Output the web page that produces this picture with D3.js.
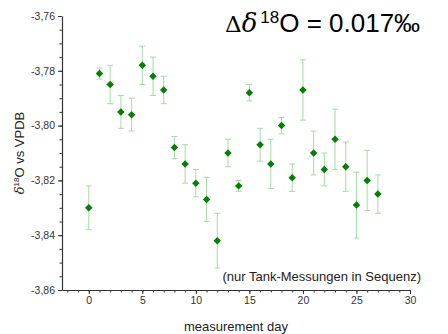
<!DOCTYPE html>
<html>
<head>
<meta charset="utf-8">
<script src="https://cdn.jsdelivr.net/npm/d3@7"></script>
<style>
  body { margin: 0; background: #fff; }
  text { font-family: "Liberation Sans", Arial, sans-serif; fill: #222; }
</style>
</head>
<body>
<div id="chart"></div>
<script>
// data
var days = [0, 1, 2, 3, 4, 5, 6, 7, 8, 9, 10, 11, 12, 13, 14, 15, 16, 17, 18, 19, 20, 21, 22, 23, 24, 25, 26, 27];
var d18O = [-3.830, -3.781, -3.785, -3.795, -3.796, -3.778, -3.782, -3.787, -3.808, -3.814,
            -3.821, -3.827, -3.842, -3.810, -3.822, -3.788, -3.807, -3.814, -3.800, -3.819,
            -3.787, -3.810, -3.816, -3.805, -3.815, -3.829, -3.820, -3.825];
var err = [0.008, 0.002, 0.007, 0.006, 0.006, 0.007, 0.007, 0.005, 0.004, 0.007,
           0.005, 0.008, 0.010, 0.005, 0.002, 0.003, 0.006, 0.009, 0.003, 0.005,
           0.011, 0.008, 0.006, 0.011, 0.009, 0.012, 0.011, 0.007];
var xTicks = [0, 5, 10, 15, 20, 25, 30];
var yTicks = [-3.86, -3.84, -3.82, -3.80, -3.78, -3.76];

var width = 448, height = 334;

var svg = d3.select("#chart").append("svg")
    .attr("width", width)
    .attr("height", height);

var x = d3.scaleLinear().domain([-2.5, 30]).range([62, 410]);
var y = d3.scaleLinear().domain([-3.86, -3.76]).range([290, 16]);

var loc = d3.formatLocale({decimal: ",", thousands: ".", grouping: [3], currency: ["", ""], minus: "-"});
var fmt = loc.format(".2f");

// minor ticks first
svg.append("g")
    .attr("transform", "translate(0,290)")
    .call(d3.axisBottom(x).tickValues(d3.range(-2, 31, 1)).tickSize(2.5).tickFormat(""))
    .call(g => g.select(".domain").remove());
svg.append("g")
    .attr("transform", "translate(62,0)")
    .call(d3.axisLeft(y).tickValues(d3.range(0, 21).map(i => -3.86 + i * 0.005)).tickSize(2.5).tickFormat(""))
    .call(g => g.select(".domain").remove());

// major axes
var xAxis = svg.append("g")
    .attr("transform", "translate(0,290)")
    .call(d3.axisBottom(x).tickValues(xTicks).tickSize(4).tickSizeOuter(0).tickPadding(3));
var yAxis = svg.append("g")
    .attr("transform", "translate(62,0)")
    .call(d3.axisLeft(y).tickValues(yTicks).tickSize(4).tickSizeOuter(0).tickPadding(3).tickFormat(fmt));

svg.selectAll(".tick line").attr("stroke", "#333");
svg.selectAll(".domain").attr("stroke", "#333").attr("stroke-width", 1.2);
xAxis.selectAll("text").style("font-size", "10.5px").style("fill", "#333").style("font-family", "Liberation Sans, Arial, sans-serif");
yAxis.selectAll("text").style("font-size", "10.5px").style("fill", "#333").style("font-family", "Liberation Sans, Arial, sans-serif");

// error bars
var pts = days.map((d, i) => ({day: d, v: d18O[i], e: err[i]}));
var eb = svg.append("g").attr("stroke", "#a6dba6").attr("stroke-width", 1);
pts.forEach(function(p) {
  var cx = x(p.day);
  eb.append("line").attr("x1", cx).attr("x2", cx).attr("y1", y(p.v + p.e)).attr("y2", y(p.v - p.e));
  eb.append("line").attr("x1", cx - 3).attr("x2", cx + 3).attr("y1", y(p.v + p.e)).attr("y2", y(p.v + p.e));
  eb.append("line").attr("x1", cx - 3).attr("x2", cx + 3).attr("y1", y(p.v - p.e)).attr("y2", y(p.v - p.e));
});

// diamond markers
svg.append("g").selectAll("path")
    .data(pts)
    .enter()
    .append("path")
    .attr("d", d3.symbol().type(d3.symbolSquare).size(28))
    .attr("transform", d => "translate(" + x(d.day) + "," + y(d.v) + ") rotate(45)")
    .attr("fill", "#008000");

// axis titles
svg.append("text")
    .attr("x", 236).attr("y", 331)
    .attr("text-anchor", "middle")
    .style("font-size", "13px")
    .text("measurement day");

var yl = svg.append("text")
    .attr("transform", "translate(24,153) rotate(-90)")
    .attr("text-anchor", "middle")
    .style("font-size", "13px");
yl.append("tspan").style("font-style", "italic").style("font-family", "DejaVu Serif, serif").text("δ");
yl.append("tspan").attr("dy", -5).style("font-size", "8px").text("18");
yl.append("tspan").attr("dy", 5).text("O vs VPDB");

// big label top right
var t = svg.append("text")
    .attr("x", 225).attr("y", 32)
    .style("font-size", "26px")
    .style("fill", "#000");
t.append("tspan").style("font-family", "DejaVu Serif, serif").style("font-size", "23px").text("Δ");
t.append("tspan").style("font-style", "italic").style("font-family", "DejaVu Serif, serif").text("δ");
t.append("tspan").attr("dx", 3).attr("dy", -9).style("font-size", "17px").text("18");
t.append("tspan").attr("dy", 9).text("O = 0.017‰");

svg.append("text")
    .attr("x", 421).attr("y", 281)
    .attr("text-anchor", "end")
    .style("font-size", "13px")
    .text("(nur Tank-Messungen in Sequenz)");
</script>
</body>
</html>
